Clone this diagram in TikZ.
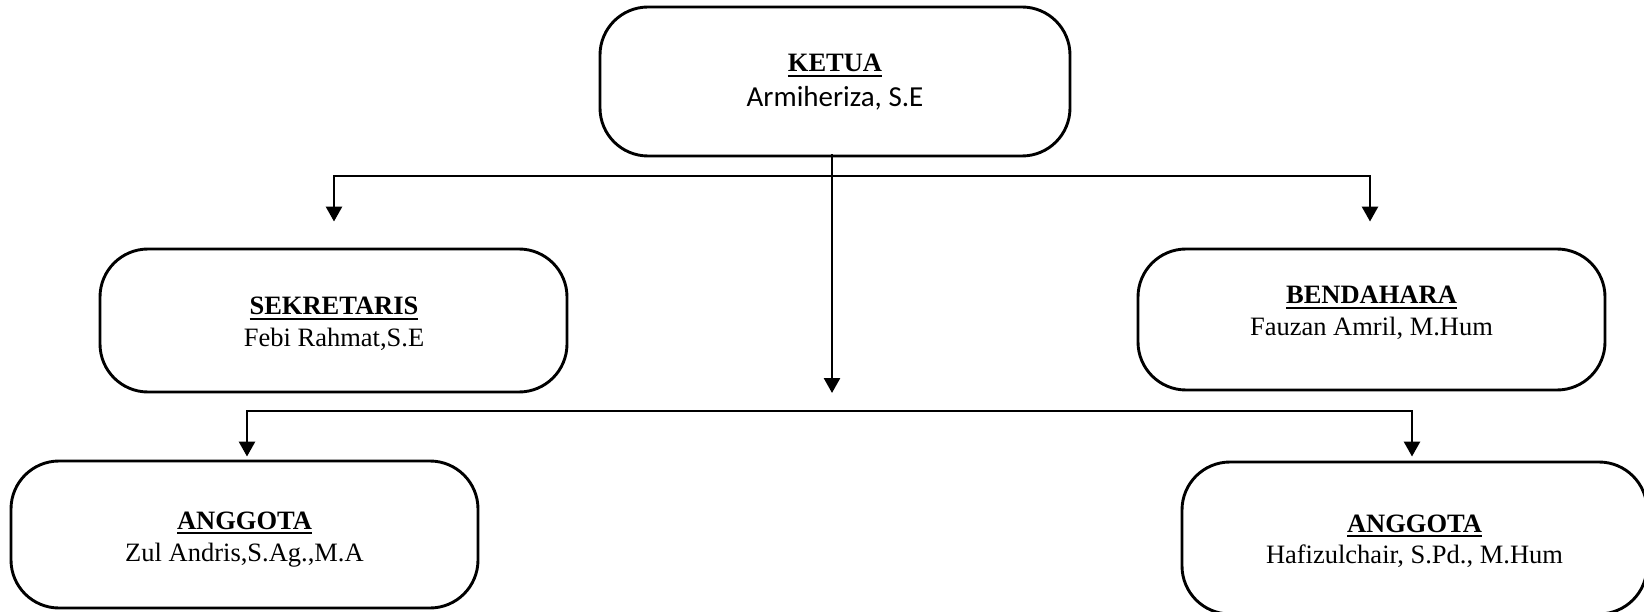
\documentclass[tikz,border=0pt]{standalone}
\usepackage{fontspec}
\setmainfont{Liberation Serif}
\newfontfamily\calibrifont{Carlito}
\usetikzlibrary{arrows.meta}
\newcommand\myul[1]{\setbox0\hbox{\textbf{#1}}\rlap{\rule[-5pt]{\wd0}{2.4pt}}\box0}
\tikzset{
 box/.style={draw, line width=2.9pt, rounded corners=48pt, inner sep=0pt},
 ttl/.style={anchor=base, inner sep=0pt, font=\fontsize{26.5}{30}\selectfont},
 nm/.style={anchor=base, inner sep=0pt, font=\fontsize{26.5}{30}\selectfont},
 conn/.style={line width=2.7pt},
 arr/.style={conn, -{Triangle[width=16pt,length=15pt]}},
}
\begin{document}
\begin{tikzpicture}[x=1pt, y=-1pt]
\useasboundingbox (0,0) rectangle (1644,612);
\clip (0,0) rectangle (1644,612);
% boxes
\node[box, minimum width=470pt, minimum height=149pt] (ketua) at (835,81.5) {};
\node[box, minimum width=467pt, minimum height=143pt] (sek) at (333.5,320.5) {};
\node[box, minimum width=467pt, minimum height=141pt] (ben) at (1371.5,319.5) {};
\node[box, minimum width=467pt, minimum height=147pt] (a1) at (244.5,534.5) {};
\node[box, minimum width=465pt, minimum height=152pt] (a2) at (1414.5,538) {};
% texts
\node[ttl] (ketuaT) at (835,72) {\myul{KETUA}};
\node[nm, font=\fontsize{29}{32}\selectfont\calibrifont] (ketuaN) at (835,107) {Armiheriza, S.E};
\node[ttl] (sekT) at (334,315) {\myul{SEKRETARIS}};
\node[nm] (sekN) at (334,347) {Febi Rahmat,S.E};
\node[ttl] (benT) at (1371.5,304) {\myul{BENDAHARA}};
\node[nm] (benN) at (1371.5,335) {Fauzan Amril, M.Hum};
\node[ttl] (a1T) at (244.5,529) {\myul{ANGGOTA}};
\node[nm] (a1N) at (244.5,561) {Zul Andris,S.Ag.,M.A};
\node[ttl] (a2T) at (1414.5,532) {\myul{ANGGOTA}};
\node[nm] (a2N) at (1414.5,563) {Hafizulchair, S.Pd., M.Hum};
% connectors
\coordinate (b1L) at (334,176);
\coordinate (b1R) at (1370,176);
\coordinate (b2L) at (247,411);
\coordinate (b2R) at (1412,411);
\coordinate (kOut) at ([xshift=-3pt,yshift=3pt]ketua.south);
\draw[arr, shorten >=26pt] (b1R) -- (b1L) -- (b1L |- sek.north);
\draw[arr, shorten >=26pt] (b1L) -- (b1R) -- (b1R |- ben.north);
\draw[arr, shorten >=18pt] (kOut) -- (kOut |- b2L);
\draw[arr, shorten >=3pt] (b2R) -- (b2L) -- (b2L |- a1.north);
\draw[arr, shorten >=4pt] (b2L) -- (b2R) -- (b2R |- a2.north);
\end{tikzpicture}
\end{document}
